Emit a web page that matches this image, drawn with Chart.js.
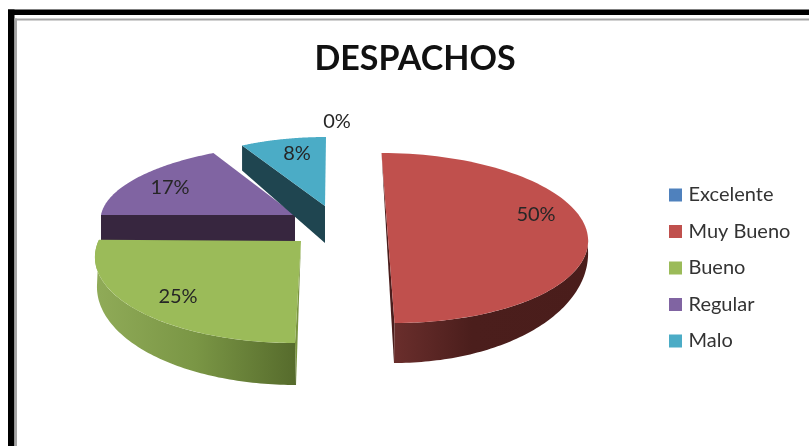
<!DOCTYPE html>
<html>
<head>
<meta charset="utf-8">
<script src="https://cdn.jsdelivr.net/npm/chart.js@4"></script>
<style>
  html, body { margin: 0; padding: 0; background: #fff; }
  canvas { display: block; }
</style>
</head>
<body>
<canvas id="despachos" width="809" height="446"></canvas>
<script>
// Survey results for the "DESPACHOS" question
const categories = ['Excelente', 'Muy Bueno', 'Bueno', 'Regular', 'Malo'];
const percentages = [0, 50, 25, 17, 8];
const sliceColors = ['#4f81bd', '#c0504d', '#9bbb59', '#8064a2', '#4bacc6'];
const chartTitle = 'DESPACHOS';

const FONT = 'Lato, Carlito, sans-serif';
const DEG = Math.PI / 180;

// Perspective pose of each exploded wedge, in px relative to the pie centre.
// top/base are the upper and lower rim ellipses: x = dx + a cos t + k sin t, y = dy + b sin t.
const slicePoses = [
  { label: [-78, -142] },
  { top:  { dx: -27, dy: -26, a: 200, b: 85, k: 6.5 },
    base: { dx: -27, dy: -14, a: 200, b: 113, k: 6 },
    side: [[0, '#6a2e2c'], [0.4, '#4b1e1c'], [1, '#4a1d1b']],
    wall: '#4a1d1c', wallKind: 'diameter', label: [121, -49] },
  { top:  { dx: -115, dy: -9, a: 205, b: 88, k: -5 },
    base: { dx: -115, dy: 21, a: 203, b: 100, k: -4 },
    apex: [-114, -23], twist: 10,
    side: [[0, '#566b2c'], [0.5, '#7a9645'], [1, '#90ab58']], sideReversed: true,
    wall: '#7a9440', wallKind: 'near', label: [-237, 33] },
  { top:  { dx: -120, dy: -49, a: 194, b: 70.7, k: -13.5 },
    wall: '#37263f', depth: [30, 30], wallKind: 'far', label: [-245, -76] },
  { top:  { dx: -90, dy: -58, a: 174, b: 69, k: -1 },
    wall: '#1f4550', depth: [37, 25], wallKind: 'far', label: [-118, -110] }
];
const drawOrder = [3, 2, 4, 1];

function rimPoint(arc, e, t) {
  return [arc.x + e.dx + e.a * Math.cos(t) + e.k * Math.sin(t),
          arc.y + e.dy + e.b * Math.sin(t)];
}

function fillPolygon(ctx, pts, fill) {
  ctx.beginPath();
  pts.forEach((p, i) => (i ? ctx.lineTo(p[0], p[1]) : ctx.moveTo(p[0], p[1])));
  ctx.closePath();
  ctx.fillStyle = fill;
  ctx.fill();
}

function drawWedge(ctx, arc, pose, color) {
  const start = arc.startAngle, end = arc.endAngle;
  const twist = (pose.twist || 0) * DEG;
  const topAngle = t => t + twist * (t - start) / (end - start);
  const apex = pose.apex
    ? [arc.x + pose.apex[0], arc.y + pose.apex[1]]
    : [arc.x + pose.top.dx, arc.y + pose.top.dy];
  const topStart = rimPoint(arc, pose.top, topAngle(start));
  const topEnd = rimPoint(arc, pose.top, topAngle(end));

  // Radial wall
  let wallPts;
  if (pose.wallKind === 'diameter') {
    wallPts = [topStart, topEnd, rimPoint(arc, pose.base, end)];
  } else if (pose.wallKind === 'near') {
    wallPts = [apex, topStart, rimPoint(arc, pose.base, start)];
  } else {
    const [near, far] = pose.depth;
    wallPts = [topStart, apex, [apex[0], apex[1] + near], [topStart[0], topStart[1] + far]];
  }
  fillPolygon(ctx, wallPts, pose.wall);

  // Curved outer side, only on the front half of the rim
  if (pose.base) {
    const from = Math.max(start, 0), to = Math.min(end, Math.PI);
    const pts = [];
    const steps = 80;
    for (let i = 0; i <= steps; i++) pts.push(rimPoint(arc, pose.base, from + (to - from) * i / steps));
    for (let i = steps; i >= 0; i--) pts.push(rimPoint(arc, pose.top, topAngle(from + (to - from) * i / steps)));
    const xs = pts.map(p => p[0]);
    const x0 = Math.min(...xs), x1 = Math.max(...xs);
    const grad = ctx.createLinearGradient(pose.sideReversed ? x1 : x0, 0, pose.sideReversed ? x0 : x1, 0);
    pose.side.forEach(s => grad.addColorStop(s[0], s[1]));
    fillPolygon(ctx, pts, grad);
  }

  // Top face
  const face = [apex];
  const steps = 90;
  for (let i = 0; i <= steps; i++) face.push(rimPoint(arc, pose.top, topAngle(start + (end - start) * i / steps)));
  fillPolygon(ctx, face, color);
}

const pie3d = {
  id: 'pie3d',
  beforeDraw(chart) {
    // Outer picture frame: thick black rule and a thin grey inner rule
    const ctx = chart.ctx, W = chart.width, H = chart.height;
    ctx.save();
    ctx.fillStyle = '#000';
    ctx.fillRect(8, 9.5, W - 8, 5.5);
    ctx.fillRect(8, 9.5, 6.5, H - 9.5);
    ctx.fillStyle = '#a6a6a6';
    ctx.fillRect(14.5, 18.5, W - 14.5, 2);
    ctx.fillRect(14.5, 18.5, 2.5, H - 18.5);
    ctx.restore();
  },
  afterLayout(chart) {
    // Legend block sits in the right margin beside the pie
    const lg = chart.legend;
    lg.left = 656; lg.right = 809; lg.top = 168.5; lg.bottom = 446;
  },
  beforeDatasetDraw(chart, args) {
    const ctx = chart.ctx;
    const arcs = chart.getDatasetMeta(args.index).data;
    ctx.save();
    drawOrder.forEach(i => drawWedge(ctx, arcs[i], slicePoses[i], sliceColors[i]));
    ctx.font = '20px ' + FONT;
    ctx.fillStyle = '#262626';
    ctx.textAlign = 'center';
    ctx.textBaseline = 'middle';
    const total = percentages.reduce((s, v) => s + v, 0);
    arcs.forEach((arc, i) => {
      const [lx, ly] = slicePoses[i].label;
      ctx.fillText(Math.round(percentages[i] / total * 100) + '%', arc.x + lx, arc.y + ly);
    });
    ctx.restore();
    return false;
  }
};

new Chart(document.getElementById('despachos'), {
  type: 'pie',
  data: {
    labels: categories,
    datasets: [{ data: percentages, backgroundColor: sliceColors, borderWidth: 0 }]
  },
  plugins: [pie3d],
  options: {
    responsive: false,
    animation: false,
    layout: { padding: { left: 21 } },
    plugins: {
      tooltip: { enabled: false },
      title: {
        display: true,
        text: chartTitle,
        color: '#111',
        font: { family: FONT, size: 34, weight: 'bold', lineHeight: 1.2 },
        padding: { top: 39, bottom: 2.2 }
      },
      legend: {
        position: 'chartArea',
        align: 'start',
        labels: {
          color: '#333',
          usePointStyle: true,
          pointStyle: 'rect',
          boxWidth: 6,
          boxHeight: 13,
          padding: 16.5,
          font: { family: FONT, size: 20 }
        }
      }
    }
  }
});
</script>
</body>
</html>
